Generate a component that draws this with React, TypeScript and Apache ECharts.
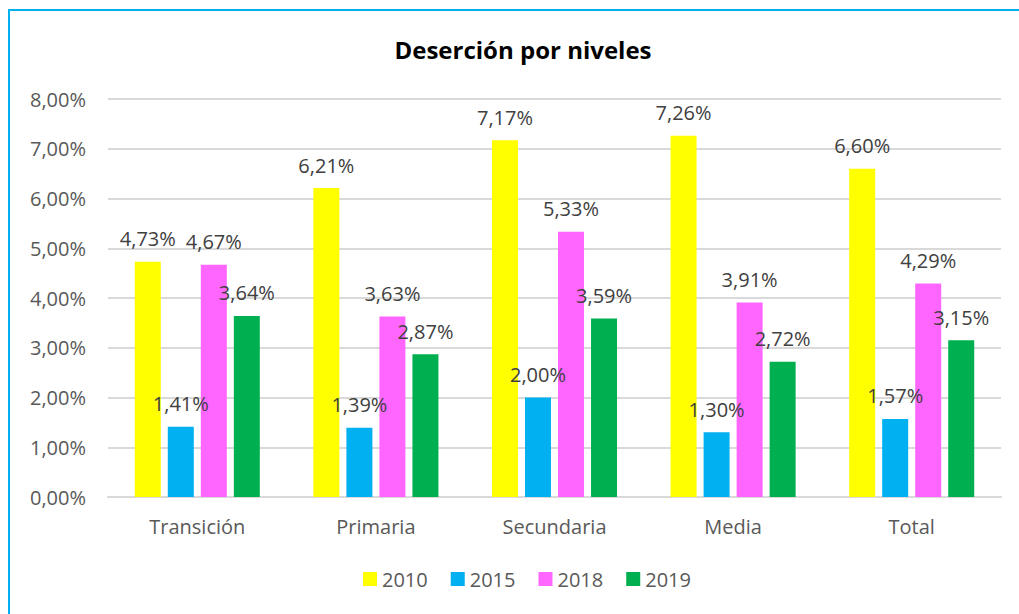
import React, { useEffect, useRef } from "react";
import * as echarts from "echarts";

const categories = ["Transición", "Primaria", "Secundaria", "Media", "Total"];
const seriesNames = ["2010", "2015", "2018", "2019"];
const values2010 = [4.73, 6.21, 7.17, 7.26, 6.6];
const values2015 = [1.41, 1.39, 2.0, 1.3, 1.57];
const values2018 = [4.67, 3.63, 5.33, 3.91, 4.29];
const values2019 = [3.64, 2.87, 3.59, 2.72, 3.15];
const colors = ["#FFFF00", "#00B0F0", "#FF66FF", "#00B050"];

const FONT = "'Open Sans', 'Noto Sans', sans-serif";
const fmt = (v: number) => v.toFixed(2).replace(".", ",") + "%";

export default function App() {
  const ref = useRef<HTMLDivElement>(null);
  useEffect(() => {
    if (!ref.current) return;
    const chart = echarts.init(ref.current, undefined, { renderer: "svg" });
    const all = [values2010, values2015, values2018, values2019];
    chart.setOption({
      animation: false,
      backgroundColor: "#ffffff",
      title: {
        text: "Deserción por niveles",
        left: 518,
        top: 32,
        textAlign: "center",
        textStyle: { fontFamily: FONT, fontSize: 24, fontWeight: "bold", color: "#000000" },
      },
      graphic: [
        { type: "line", shape: { x1: 8, y1: 10, x2: 1019, y2: 10 }, style: { stroke: "#00B0F0", lineWidth: 2 } },
        { type: "line", shape: { x1: 9, y1: 10, x2: 9, y2: 614 }, style: { stroke: "#00B0F0", lineWidth: 2 } },
      ],
      grid: { left: 108, right: 18, top: 99, bottom: 117, containLabel: false },
      legend: {
        data: seriesNames,
        bottom: 20,
        left: 358,
        itemWidth: 14,
        itemHeight: 14,
        itemGap: 23,
        icon: "rect",
        textStyle: { fontFamily: FONT, fontSize: 20, color: "#595959" },
      },
      xAxis: {
        type: "category",
        data: categories,
        axisTick: { show: false },
        axisLine: { lineStyle: { color: "#d9d9d9", width: 2 } },
        axisLabel: { margin: 19, fontFamily: FONT, fontSize: 20, color: "#595959" },
      },
      yAxis: {
        type: "value",
        min: 0,
        max: 8,
        interval: 1,
        axisLabel: { margin: 22, fontFamily: FONT, fontSize: 20, color: "#595959", formatter: (v: number) => fmt(v) },
        splitLine: { lineStyle: { color: "#d9d9d9", width: 2 } },
        axisLine: { show: false },
        axisTick: { show: false },
      },
      series: seriesNames.map((name, i) => ({
        name,
        type: "bar",
        data: all[i],
        barWidth: 26,
        barGap: "27%",
        itemStyle: { color: colors[i] },
        label: {
          show: true,
          position: "top",
          distance: 13,
          fontFamily: FONT,
          fontSize: 20,
          color: "#404040",
          formatter: (p: any) => fmt(p.value),
        },
      })),
    });
    return () => chart.dispose();
  }, []);
  return <div ref={ref} style={{ position: "fixed", left: 0, top: 0, width: 1019, height: 614 }} />;
}
